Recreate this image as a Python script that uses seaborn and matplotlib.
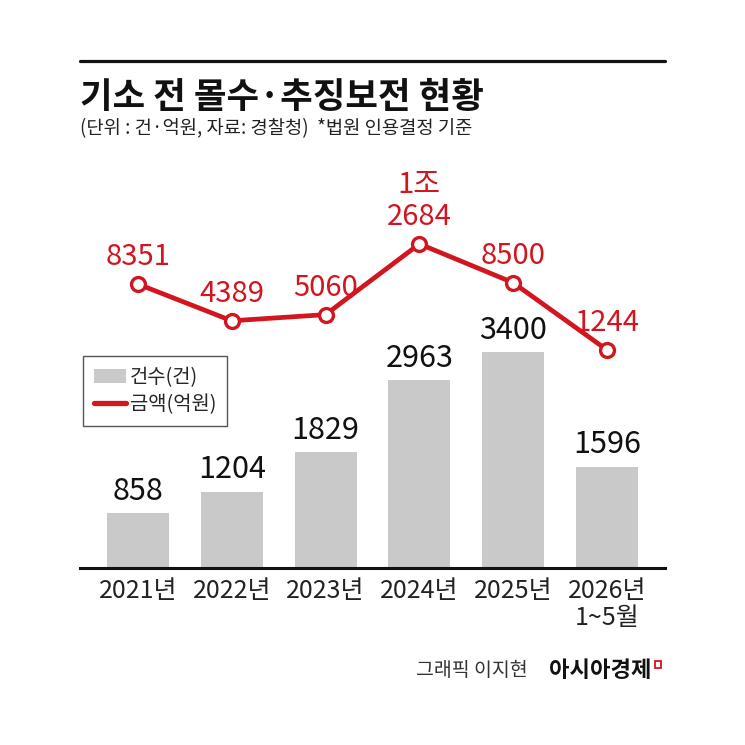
import numpy as np
import pandas as pd
import matplotlib
matplotlib.use("Agg")
import matplotlib.pyplot as plt
import seaborn as sns
from matplotlib.patches import Patch, Rectangle
from matplotlib.lines import Line2D

# ---- data ----
years = ["2021년", "2022년", "2023년", "2024년", "2025년", "2026년\n1~5월"]
counts = [858, 1204, 1829, 2963, 3400, 1596]          # 건수(건)
amounts = [8351, 4389, 5060, 12684, 8500, 1244]       # 금액(억원)
title = "기소 전 몰수·추징보전 현황"
subtitle = "(단위 : 건·억원, 자료: 경찰청)  *법원 인용결정 기준"
legend_labels = ["건수(건)", "금액(억원)"]
credit = "그래픽 이지현"
brand = "아시아경제"

GRAY = "#c9c9c9"
RED = "#d2151f"

sns.set_theme(style="white")
plt.rcParams['font.family'] = ['Noto Sans CJK KR', 'DejaVu Sans']

W = 745
fig = plt.figure(figsize=(7.45, 7.45), dpi=100)
fig.patch.set_facecolor("white")


def fx(px):
    return px / W


def fy(py):
    return 1 - py / W


ax = fig.add_axes([fx(80), fy(568), fx(665) - fx(80), fy(160) - fy(568)])
df = pd.DataFrame({"year": years, "count": counts, "amount": amounts})
pos = np.arange(len(years))

sns.barplot(data=df, x="year", y="count", color=GRAY, saturation=1,
            width=0.66, linewidth=0, ax=ax)
ax.set_ylim(0, 6422)
ax.set_xlabel("")
ax.set_ylabel("")
ax.set_yticks([])
for s in ["left", "right", "top"]:
    ax.spines[s].set_visible(False)
ax.spines["bottom"].set_color("#111111")
ax.spines["bottom"].set_linewidth(2.2)
ax.tick_params(axis="x", length=0, pad=7, labelsize=18, labelcolor="#222222")
for lab in ax.get_xticklabels():
    lab.set_linespacing(1.05)

for i, c in enumerate(counts):
    ax.annotate(f"{c}", (i, c), xytext=(0, 4.5), textcoords="offset points",
                ha="center", va="bottom", fontsize=22, color="#111111")

ax2 = ax.twinx()
sns.lineplot(x=pos, y=amounts, ax=ax2, color=RED, linewidth=3.4,
             marker="o", markersize=10, markerfacecolor="white",
             markeredgecolor=RED, markeredgewidth=2.4)
ax2.set_ylim(-22276, 21737)
ax2.set_yticks([])
ax2.set_ylabel("")
for s in ["left", "right", "top", "bottom"]:
    ax2.spines[s].set_visible(False)


def amount_label(v):
    if v >= 10000:
        return f"{v // 10000}조\n{v % 10000}"
    return f"{v}"


for i, v in enumerate(amounts):
    ax2.annotate(amount_label(v), (i, v), xytext=(0, 8.5), textcoords="offset points",
                 ha="center", va="bottom", fontsize=21, color=RED, linespacing=1.1)

ax.set_xlim(-0.618, 5.618)

handles = [Patch(facecolor=GRAY, edgecolor="none"),
           Line2D([], [], color=RED, lw=3.8, solid_capstyle="round")]
leg = fig.legend(handles, legend_labels, loc="upper left",
                 bbox_to_anchor=(fx(83), fy(356)), bbox_transform=fig.transFigure,
                 frameon=True, fancybox=False, edgecolor="#555555", framealpha=1,
                 fontsize=14.3, handlelength=1.6, handleheight=0.75,
                 handletextpad=0.2, borderpad=0.55, labelspacing=0.3,
                 borderaxespad=0)
leg.get_frame().set_linewidth(1.0)

# header
fig.add_artist(Line2D([fx(80), fx(665)], [fy(61), fy(61)], color="#111111",
                      lw=2.3, transform=fig.transFigure))
fig.text(fx(80), fy(108), title, ha="left", va="baseline", fontsize=25.5,
         fontweight="bold", color="#111111")
fig.text(fx(80), fy(134), subtitle, ha="left", va="baseline", fontsize=13.5,
         color="#222222")

# footer
fig.text(fx(528), fy(676), credit, ha="right", va="baseline", fontsize=14,
         color="#333333")
fig.text(fx(651), fy(677), brand, ha="right", va="baseline", fontsize=16,
         fontweight="bold", color="#111111")
fig.add_artist(Rectangle((fx(655), fy(668)), fx(6), fx(7), fill=False,
                         edgecolor=RED, lw=1.3, transform=fig.transFigure))

fig.savefig("out.png", dpi=100, facecolor="white")
